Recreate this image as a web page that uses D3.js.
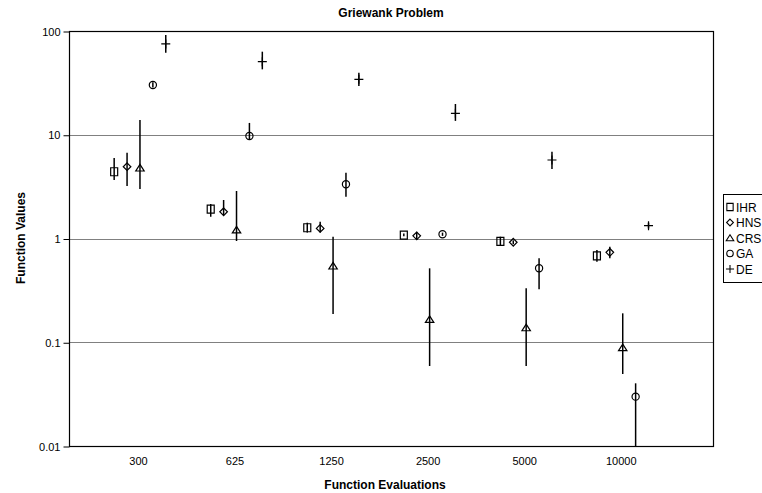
<!DOCTYPE html>
<html>
<head>
<meta charset="utf-8">
<script src="https://cdn.jsdelivr.net/npm/d3@7"></script>
<style>
  body { margin: 0; background: #fff; }
  svg { font-family: Arial, "Liberation Sans", sans-serif; }
</style>
</head>
<body>
<svg id="chart" width="762" height="493"></svg>
<script>
// categories and series
var evals = ['300', '625', '1250', '2500', '5000', '10000'];
var seriesNames = ['IHR', 'HNS', 'CRS', 'GA', 'DE'];
var yTicks = [0.01, 0.1, 1, 10, 100];

// mean values
var ihr = [4.4, 1.92, 1.27, 1.08, 0.94, 0.68];
var hns = [4.92, 1.81, 1.25, 1.06, 0.92, 0.736];
var crs = [4.78, 1.21, 0.543, 0.166, 0.138, 0.0886];
var ga  = [30.2, 9.73, 3.33, 1.10, 0.516, 0.0299];
var de  = [75, 50.6, 34.2, 16.1, 5.71, 1.33];

// error bar high / low
var ihrHi = [5.97, 2.15, 1.42, 1.12, 1.04, 0.775];
var ihrLo = [3.66, 1.62, 1.14, 1.05, 0.847, 0.598];
var hnsHi = [6.71, 2.35, 1.45, 1.16, 0.96, 0.834];
var hnsLo = [3.21, 1.68, 1.14, 0.967, 0.88, 0.644];
var crsHi = [13.9, 2.87, 1.04, 0.516, 0.331, 0.19];
var crsLo = [3.0, 0.946, 0.187, 0.059, 0.059, 0.0494];
var gaHi  = [32, 13.0, 4.31, 1.14, 0.644, 0.0402];
var gaLo  = [28.5, 8.9, 2.53, 1.06, 0.324, 0.001];
var deHi  = [91.5, 63.2, 39.6, 19.8, 6.87, 1.42];
var deLo  = [61.8, 42.7, 29.5, 13.6, 4.68, 1.25];

var means = [ihr, hns, crs, ga, de];
var highs = [ihrHi, hnsHi, crsHi, gaHi, deHi];
var lows = [ihrLo, hnsLo, crsLo, gaLo, deLo];

var margin = { left: 69, top: 31, right: 713, bottom: 446 };
var svg = d3.select('#chart');

var x = d3.scaleLinear().domain([-0.735, 5.935]).range([margin.left, margin.right]);
var y = d3.scaleLog().domain([0.01, 100]).range([margin.bottom, margin.top]).clamp(true);
var step = 0.1336;

var points = [];
means.forEach(function (vals, j) {
  vals.forEach(function (v, i) {
    points.push({ s: j, i: i, v: v, hi: highs[j][i], lo: lows[j][i], xv: i + (j - 2) * step });
  });
});

// gridlines
svg.append('g').selectAll('line').data(yTicks.slice(1, 4)).enter().append('line')
  .attr('x1', margin.left).attr('x2', margin.right)
  .attr('y1', function (d) { return Math.round(y(d)) + 0.5; })
  .attr('y2', function (d) { return Math.round(y(d)) + 0.5; })
  .attr('stroke', '#808080').attr('stroke-width', 1);

// plot border
svg.append('rect')
  .attr('x', margin.left + 0.5).attr('y', margin.top + 0.5)
  .attr('width', margin.right - margin.left).attr('height', margin.bottom - margin.top)
  .attr('fill', 'none').attr('stroke', '#000').attr('stroke-width', 1.2);

// y axis
var yAxis = d3.axisLeft(y).tickValues(yTicks).tickSize(6)
  .tickFormat(function (d) { return d >= 1 ? d3.format('d')(d) : String(d); });
var gy = svg.append('g').attr('transform', 'translate(' + (margin.left + 0.5) + ',0.5)').call(yAxis);
gy.select('.domain').remove();
gy.selectAll('line').attr('stroke', '#000');
gy.selectAll('text').attr('font-size', 11).attr('font-family', 'Arial, "Liberation Sans", sans-serif').attr('fill', '#000');

// x axis
var xAxis = d3.axisBottom(x).tickValues(d3.range(evals.length)).tickSize(0)
  .tickFormat(function (d) { return evals[d]; });
var gx = svg.append('g').attr('transform', 'translate(-2,' + margin.bottom + ')').call(xAxis);
gx.select('.domain').remove();
gx.selectAll('text').attr('font-size', 11).attr('dy', '1.45em').attr('font-family', 'Arial, "Liberation Sans", sans-serif').attr('fill', '#000');

// error bars
svg.append('g').selectAll('line').data(points).enter().append('line')
  .attr('x1', function (d) { return x(d.xv); }).attr('x2', function (d) { return x(d.xv); })
  .attr('y1', function (d) { return y(d.hi); }).attr('y2', function (d) { return y(d.lo); })
  .attr('stroke', '#000').attr('stroke-width', 1.5);

// markers (hollow, so the error bar shows through)
var markerPaths = [
  'M-3.5,-4H3.5V4H-3.5Z',
  'M0,-3.8L3.8,0L0,3.8L-3.8,0Z',
  'M0,-3.6L4.2,3H-4.2Z',
  null,
  'M-4.5,0H4.5M0,-4.5V4.5'
];

function drawMarker(g, s) {
  if (s === 3) {
    g.append('circle').attr('r', 3.6)
      .attr('stroke', '#000').attr('stroke-width', 1.2).attr('fill', 'none');
  } else {
    g.append('path').attr('d', markerPaths[s])
      .attr('stroke', '#000').attr('stroke-width', 1.2).attr('fill', 'none');
  }
}

svg.append('g').selectAll('g').data(points).enter().append('g')
  .attr('transform', function (d) { return 'translate(' + x(d.xv) + ',' + y(d.v) + ')'; })
  .each(function (d) { drawMarker(d3.select(this), d.s); });

// title and axis titles
svg.append('text').attr('x', 391).attr('y', 17).attr('text-anchor', 'middle')
  .attr('font-size', 12).attr('font-weight', 'bold').text('Griewank Problem');
svg.append('text').attr('x', 385).attr('y', 489).attr('text-anchor', 'middle')
  .attr('font-size', 12).attr('font-weight', 'bold').text('Function Evaluations');
svg.append('text').attr('transform', 'translate(25,238) rotate(-90)').attr('text-anchor', 'middle')
  .attr('font-size', 12).attr('font-weight', 'bold').text('Function Values');

// legend, centred on the plot height
var leg = svg.append('g').attr('transform', 'translate(723,194)');
leg.append('rect').attr('x', 0.5).attr('y', 0.5).attr('width', 60).attr('height', 88)
  .attr('fill', '#fff').attr('stroke', '#000').attr('stroke-width', 1);
seriesNames.forEach(function (name, j) {
  var row = leg.append('g').attr('transform', 'translate(0,' + (13 + j * 15.5) + ')');
  var m = row.append('g').attr('transform', 'translate(7,0) scale(0.9)');
  drawMarker(m, j);
  row.append('text').attr('x', 13).attr('y', 4.5).attr('font-size', 12).text(name);
});
</script>
</body>
</html>
